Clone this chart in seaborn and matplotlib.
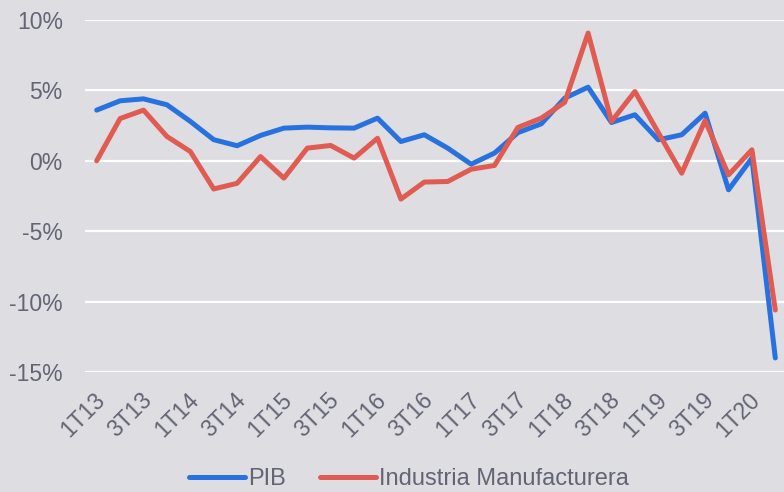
import numpy as np
import pandas as pd
import matplotlib
matplotlib.use("Agg")
import matplotlib.pyplot as plt
import matplotlib.transforms as mtransforms
import seaborn as sns

# Quarterly growth (%), 1T13 .. 2T20
quarters = [f"{q}T{y}" for y in range(13, 21) for q in range(1, 5)][:30]
pib = [3.6, 4.26, 4.4, 3.98, 2.8, 1.5, 1.07, 1.8, 2.32, 2.39,
       2.34, 2.32, 3.03, 1.37, 1.85, 0.9, -0.24, 0.55, 2.0, 2.63,
       4.45, 5.23, 2.72, 3.27, 1.49, 1.85, 3.38, -2.06, 0.19, -14.0]
industria = [0.0, 3.0, 3.6, 1.73, 0.66, -2.0, -1.6, 0.3, -1.23, 0.9,
             1.09, 0.19, 1.6, -2.72, -1.51, -1.47, -0.6, -0.33, 2.37, 3.03,
             4.15, 9.07, 2.8, 4.92, 2.0, -0.88, 2.86, -1.0, 0.78, -10.6]
series_names = ["PIB", "Industria Manufacturera"]
y_ticks = [-15, -10, -5, 0, 5, 10]

df = pd.DataFrame({
    "idx": list(range(len(quarters))) * 2,
    "valor": pib + industria,
    "serie": [series_names[0]] * len(pib) + [series_names[1]] * len(industria),
})

bg = "#DEDDE2"
txt = "#636474"
sns.set_theme(style="white")
plt.rcParams["font.family"] = ["Liberation Sans", "DejaVu Sans"]

fig = plt.figure(figsize=(7.84, 4.92), dpi=100, facecolor=bg)
ax = fig.add_axes([85 / 784, 1 - 372 / 492, 702 / 784, 352 / 492])
ax.set_facecolor(bg)

sns.lineplot(data=df, x="idx", y="valor", hue="serie", ax=ax,
             palette={"PIB": "#2872E0", "Industria Manufacturera": "#E05C52"},
             linewidth=3.6, legend=True)
for ln in ax.lines:
    ln.set_solid_capstyle("round")
    ln.set_solid_joinstyle("round")

ax.set_xlim(-0.5, 29.5)
ax.set_ylim(-15, 10)
ax.set_yticks(y_ticks)
ax.set_yticklabels([f"{t}%" for t in y_ticks])
ax.yaxis.grid(True, color="white", linewidth=1.6)
ax.set_axisbelow(True)
for s in ax.spines.values():
    s.set_visible(False)

ax.set_xticks(range(0, 30, 2))
ax.set_xticklabels(quarters[::2], rotation=45, ha="right", va="center",
                   rotation_mode="anchor")
ax.tick_params(axis="x", length=0, pad=18, labelsize=16.5, colors=txt)
ax.tick_params(axis="y", length=0, pad=16, labelsize=16.5, colors=txt)
shift = mtransforms.ScaledTranslation(5 / 100, 0, fig.dpi_scale_trans)
for lab in ax.get_xticklabels():
    lab.set_transform(lab.get_transform() + shift)
ax.set_xlabel("")
ax.set_ylabel("")

handles, labels = ax.get_legend_handles_labels()
leg = ax.legend(handles, labels, loc="center", bbox_to_anchor=(409 / 784, 13 / 492),
                bbox_transform=fig.transFigure, ncol=2, frameon=False,
                fontsize=17, labelcolor=txt, handlelength=2.35, handletextpad=0.15,
                columnspacing=1.45)
for h in leg.get_lines():
    h.set_solid_capstyle("round")

fig.savefig("out.png", dpi=100, facecolor=bg)
